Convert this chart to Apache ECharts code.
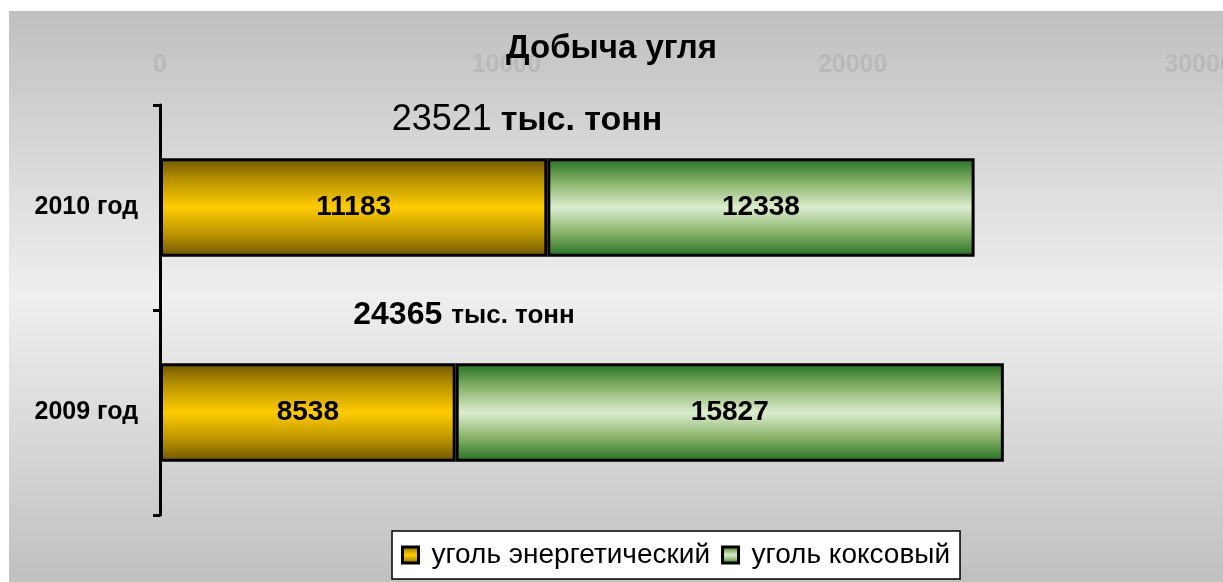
<!DOCTYPE html>
<html>
<head>
<meta charset="utf-8">
<script src="https://cdn.jsdelivr.net/npm/echarts@6/dist/echarts.min.js"></script>
<style>
  html, body { margin: 0; padding: 0; background: #fff; }
  #chart { width: 1223px; height: 582px; }
</style>
</head>
<body>
<div id="chart"></div>
<script>
const years = ['2009 год', '2010 год'];
const energyCoal = [8538, 11183];
const cokingCoal = [15827, 12338];
const xTicks = [0, 10000, 20000, 30000];
const seriesNames = ['уголь энергетический', 'уголь коксовый'];

const font = '"Liberation Sans", Arial, sans-serif';

const goldFill = new echarts.graphic.LinearGradient(0, 0, 0, 1, [
    { offset: 0, color: '#6e5300' },
    { offset: 0.22, color: '#b89200' },
    { offset: 0.5, color: '#ffcc00' },
    { offset: 0.78, color: '#b89200' },
    { offset: 1, color: '#6e5300' }
]);
const greenFill = new echarts.graphic.LinearGradient(0, 0, 0, 1, [
    { offset: 0, color: '#237023' },
    { offset: 0.25, color: '#8ab46a' },
    { offset: 0.5, color: '#dcedcf' },
    { offset: 0.75, color: '#8ab46a' },
    { offset: 1, color: '#237023' }
]);

const chart = echarts.init(document.getElementById('chart'));

const option = {
    backgroundColor: '#ffffff',
    animation: false,
    textStyle: { fontFamily: font },
    title: {
        text: 'Добыча угля',
        left: 'center',
        top: 27,
        textStyle: { fontSize: 33, fontWeight: 'bold', color: '#000', fontFamily: font }
    },
    legend: {
        left: 392,
        top: 531,
        orient: 'horizontal',
        backgroundColor: '#ffffff',
        borderColor: '#000',
        borderWidth: 1.5,
        padding: [10, 10, 10, 9],
        itemGap: 11,
        itemWidth: 16,
        itemHeight: 16,
        icon: 'rect',
        itemStyle: { borderColor: '#000', borderWidth: 3 },
        textStyle: { fontSize: 28, color: '#000', fontFamily: font, padding: [0, 0, 0, 8] },
        data: seriesNames
    },
    grid: { left: 160, right: 24, top: 105, bottom: 67, containLabel: false, outerBoundsMode: 'none' },
    xAxis: {
        type: 'value',
        position: 'top',
        min: xTicks[0],
        max: xTicks[xTicks.length - 1],
        interval: xTicks[1] - xTicks[0],
        axisLine: { show: false },
        axisTick: { show: false },
        splitLine: { show: false },
        axisLabel: {
            color: '#b9b9b9', fontSize: 25, fontWeight: 'bold', margin: 27, fontFamily: font,
            formatter: v => String(v)
        }
    },
    yAxis: {
        type: 'category',
        data: years,
        axisLine: { show: true, lineStyle: { color: '#000', width: 3 } },
        axisTick: { show: true, length: 7, lineStyle: { color: '#000', width: 3 } },
        axisLabel: { color: '#000', fontSize: 25, fontWeight: 'bold', margin: 22, fontFamily: font }
    },
    series: [
        {
            name: seriesNames[0],
            type: 'bar',
            stack: 'total',
            barWidth: '48%',
            data: energyCoal,
            itemStyle: { color: goldFill, borderColor: '#000', borderWidth: 3 },
            label: { show: true, position: 'inside', color: '#000', fontSize: 28, fontWeight: 'bold', fontFamily: font }
        },
        {
            name: seriesNames[1],
            type: 'bar',
            stack: 'total',
            barWidth: '48%',
            data: cokingCoal,
            itemStyle: { color: greenFill, borderColor: '#000', borderWidth: 3 },
            label: { show: true, position: 'inside', color: '#000', fontSize: 28, fontWeight: 'bold', fontFamily: font }
        }
    ]
};

chart.setOption(option);

// подписи с итогами над столбцами
const totals = energyCoal.map((v, i) => v + cokingCoal[i]);
const totalStyles = [
    { num: { fontSize: 32, fontWeight: 'bold' }, unit: { fontSize: 26, fontWeight: 'bold' }, cx: 464, dy: -97 },
    { num: { fontSize: 36, fontWeight: 'normal' }, unit: { fontSize: 34, fontWeight: 'bold' }, cx: 527, dy: -87 }
];

const texts = years.map((y, i) => {
    const py = chart.convertToPixel({ yAxisIndex: 0 }, y);
    const s = totalStyles[i];
    return {
        type: 'text',
        x: s.cx,
        y: py + s.dy,
        z: 100,
        style: {
            text: '{n|' + totals[i] + '}{u|тыс. тонн}',
            align: 'center',
            verticalAlign: 'middle',
            fill: '#000',
            rich: {
                n: Object.assign({ fontFamily: font, fill: '#000', padding: [0, 9, 0, 0] }, s.num),
                u: Object.assign({ fontFamily: font, fill: '#000' }, s.unit)
            }
        }
    };
});

chart.setOption({
    graphic: [
        {
            type: 'rect',
            left: 9,
            top: 11,
            z: -10,
            silent: true,
            shape: { width: 1214, height: 571 },
            style: {
                fill: new echarts.graphic.LinearGradient(0, 0, 0, 1, [
                    { offset: 0, color: '#c0c0c0' },
                    { offset: 0.5, color: '#efefef' },
                    { offset: 1, color: '#c0c0c0' }
                ])
            }
        }
    ].concat(texts)
});
</script>
</body>
</html>
